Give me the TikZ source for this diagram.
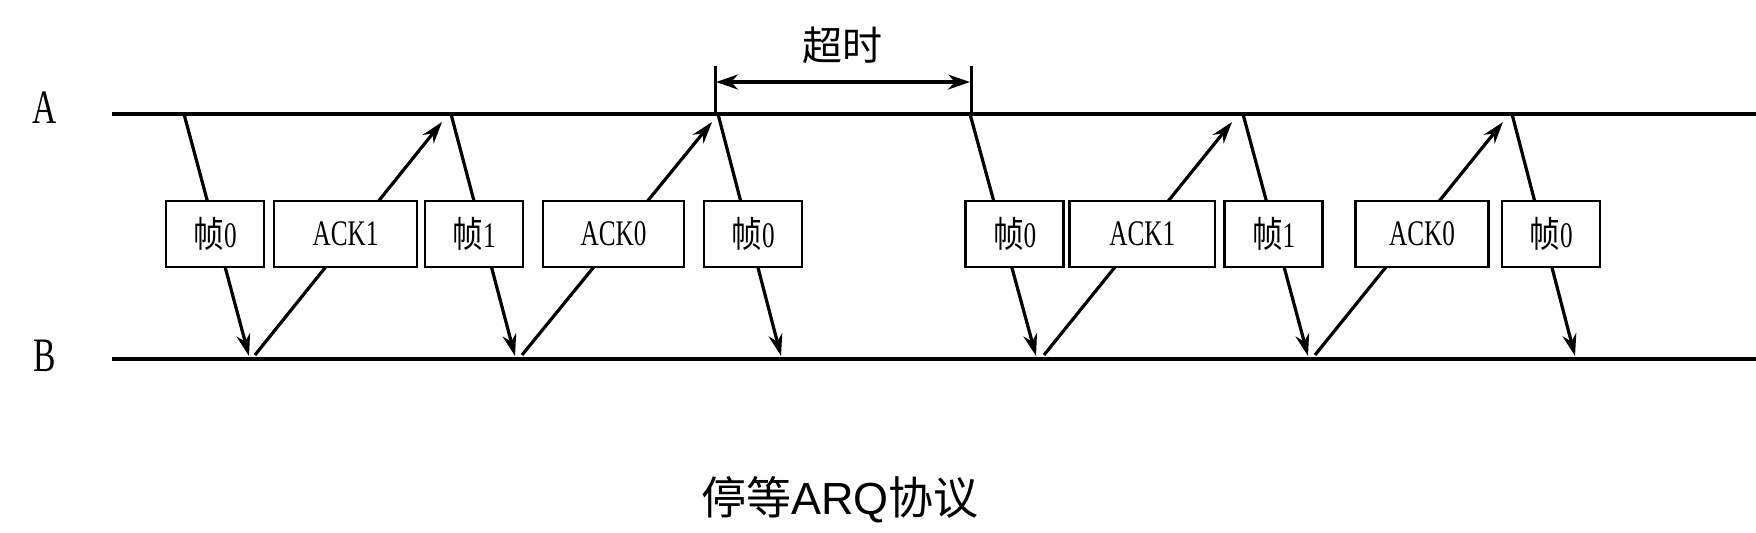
\documentclass[tikz,border=0pt]{standalone}
\usepackage{fontspec}
\setmainfont{Liberation Serif}
\newfontfamily\cjk{Noto Sans CJK SC}
\newfontfamily\boxfont[FakeStretch=0.7]{Liberation Serif}
\newfontfamily\boxcjk[FakeStretch=0.85]{Noto Sans CJK SC}
\newfontfamily\capfont{Liberation Sans}
\usetikzlibrary{arrows.meta}
\newcommand{\frm}[1]{{\boxcjk 帧}#1}

\begin{document}
\begin{tikzpicture}[x=0.5pt,y=-0.5pt,
  line/.style={line width=2.2pt},
  msg/.style={line width=1.6pt,-{Stealth[length=11pt,width=7pt]}},
  pkt/.style={draw,line width=1.3pt,fill=white,minimum height=33pt,inner sep=0pt,
    font=\fontsize{18}{20}\selectfont\boxfont}]
  \useasboundingbox (0,0) rectangle (1756,532);
  % time lines of the two stations
  \node[font=\fontsize{24}{26}\selectfont\boxfont] (la) at (45,108) {A};
  \node[font=\fontsize{24}{26}\selectfont\boxfont] (lb) at (45,356) {B};
  \coordinate (aL) at (112,114); \coordinate (aR) at (1760,114);
  \coordinate (bL) at (112,359); \coordinate (bR) at (1760,359);
  \draw[line] (aL) -- (aR);
  \draw[line] (bL) -- (bR);
  % timeout interval
  \coordinate (t1) at (715,66); \coordinate (t1b) at (715,114);
  \coordinate (t2) at (971,66); \coordinate (t2b) at (971,114);
  \draw[line width=1.5pt] (t1) -- (t1b);
  \draw[line width=1.5pt] (t2) -- (t2b);
  \coordinate (o1) at (716,82); \coordinate (o2) at (970,82);
  \draw[line width=1.8pt,{Stealth[length=11pt,width=7.5pt]}-{Stealth[length=11pt,width=7.5pt]}] (o1) -- (o2);
  \node[font=\fontsize{20}{22}\selectfont\cjk] (to) at (842,45) {超时};
  % frames A -> B
  \foreach \n/\xa/\xb in {1/184/249,2/451/515,3/718/781,4/970/1036,5/1243/1308,6/1512/1575} {
    \coordinate (s\n) at (\xa,114);
    \coordinate (e\n) at (\xb,356);
  }
  % acknowledgements B -> A
  \foreach \n/\xa/\xb in {1/255/442,2/522/712,3/1044/1232,4/1315/1503} {
    \coordinate (k\n) at (\xa,355);
    \coordinate (m\n) at (\xb,122);
  }
  \foreach \n in {1,...,6} \draw[msg] (s\n) -- (e\n);
  \foreach \n in {1,...,4} \draw[msg] (k\n) -- (m\n);
  % labels on the messages
  \foreach \n/\x/\w/\t in {1/215/49/\frm0,2/345.5/71.5/ACK1,3/474/49/\frm1,4/613.5/70.5/ACK0,
      5/753/49/\frm0,6/1014.7/49/\frm0,7/1142.3/72.7/ACK1,8/1273.6/49/\frm1,
      9/1422/66.5/ACK0,10/1551/49/\frm0} {
    \node[pkt,minimum width=\w pt] (p\n) at (\x,234) {\t};
  }
  \node[font=\fontsize{22.5}{25}\selectfont\capfont] (cap) at (840,500) {{\cjk 停等}ARQ{\cjk 协议}};
\end{tikzpicture}
\end{document}
